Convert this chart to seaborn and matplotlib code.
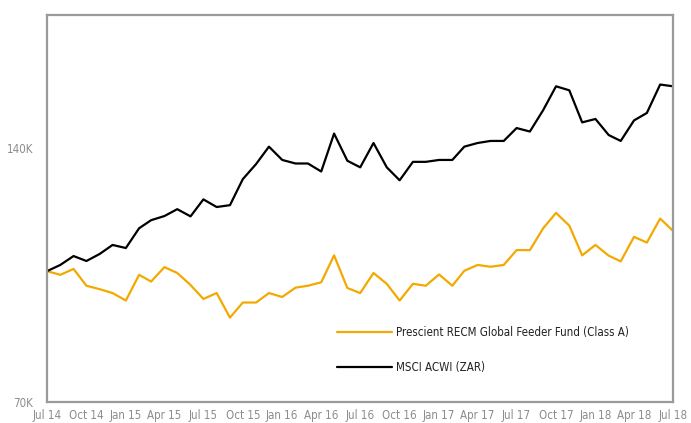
import numpy as np
import pandas as pd
import matplotlib
matplotlib.use('Agg')
import matplotlib.pyplot as plt
from matplotlib import font_manager
import seaborn as sns

# growth of 100K, monthly Jul 2014 - Jul 2018 (values in thousands)
months = pd.date_range('2014-07-01', '2018-07-01', freq='MS')

fund = [100.0, 99.0, 100.6, 96.1, 95.2, 94.2, 92.3, 99.0, 97.2, 101.1,
        99.5, 96.3, 92.7, 94.2, 88.1, 91.8, 91.8, 94.2, 93.2, 95.6,
        96.1, 97.0, 104.4, 95.5, 94.2, 99.5, 96.6, 92.3, 96.6, 96.1,
        99.1, 96.1, 100.1, 101.7, 101.2, 101.7, 105.9, 105.9, 112.4, 117.2,
        113.2, 104.4, 107.4, 104.3, 102.7, 109.8, 108.1, 115.4, 111.6]

msci = [100.0, 101.7, 104.2, 102.8, 104.8, 107.4, 106.5, 112.4, 114.9, 116.2,
        118.4, 116.1, 121.6, 119.1, 119.7, 128.5, 133.9, 140.4, 135.4, 134.1,
        134.1, 131.2, 145.5, 135.1, 132.7, 141.8, 132.7, 128.1, 134.7, 134.7,
        135.4, 135.4, 140.4, 141.8, 142.6, 142.6, 147.7, 146.3, 155.1, 165.5,
        163.7, 150.0, 151.4, 144.9, 142.6, 150.8, 153.9, 166.3, 165.5]

series_names = ['Prescient RECM Global Feeder Fund (Class A)', 'MSCI ACWI (ZAR)']
series_colors = ['#F2A900', '#000000']

tick_months = pd.date_range('2014-07-01', '2018-07-01', freq='3MS')
tick_labels = ['Jul 14', 'Oct 14', 'Jan 15', 'Apr 15', 'Jul 15', 'Oct 15', 'Jan 16',
               'Apr 16', 'Jul 16', 'Oct 16', 'Jan 17', 'Apr 17', 'Jul 17', 'Oct 17',
               'Jan 18', 'Apr 18', 'Jul 18']
y_ticks = [70, 140]
y_labels = ['70K', '140K']

df = pd.DataFrame({
    'date': list(months) * 2,
    'value': fund + msci,
    'series': [series_names[0]] * len(fund) + [series_names[1]] * len(msci),
})

sns.set_style('white')

# narrow font like the original, if there is one
installed = {f.name for f in font_manager.fontManager.ttflist}
if 'Liberation Sans Narrow' in installed:
    plt.rcParams['font.family'] = ['Liberation Sans Narrow', 'DejaVu Sans']
    fs = 9.2
else:
    plt.rcParams['font.family'] = ['DejaVu Sans']
    plt.rcParams['font.stretch'] = 'condensed'
    fs = 8.3

fig = plt.figure(figsize=(6.91, 4.23), dpi=100)
ax = fig.add_axes([47 / 691, 21 / 423, 626 / 691, 387 / 423])

sns.lineplot(data=df, x='date', y='value', hue='series', hue_order=series_names,
             palette=series_colors, linewidth=1.6, ax=ax)

ax.set_yscale('log')
ax.set_ylim(70, 201)
ax.set_xlim(months[0], months[-1])
ax.set_yticks(y_ticks)
ax.set_yticklabels(y_labels)
ax.yaxis.set_minor_locator(matplotlib.ticker.NullLocator())
ax.set_xticks(tick_months)
ax.set_xticklabels(tick_labels)
ax.set_xlabel('')
ax.set_ylabel('')
ax.tick_params(axis='both', length=0, labelsize=fs, colors='#8c8c8c')
ax.tick_params(axis='x', pad=5)
ax.tick_params(axis='y', pad=10)

for sp in ax.spines.values():
    sp.set_visible(True)
    sp.set_color('#9a9a9a')
    sp.set_linewidth(1.6)

leg = ax.legend(loc='center left', bbox_to_anchor=(0.463, 0.134), frameon=False,
                fontsize=fs, handlelength=4.75, handletextpad=0.35,
                labelspacing=1.85, borderpad=0, borderaxespad=0)
for t in leg.get_texts():
    t.set_color('#222222')

# title cut off at the top of the image
fig.text(583 / 691, 1.0 + 9 / 423, '(ZAR)', ha='center', va='baseline',
         fontsize=9, color='#222222')

fig.savefig('out.png', dpi=100)
